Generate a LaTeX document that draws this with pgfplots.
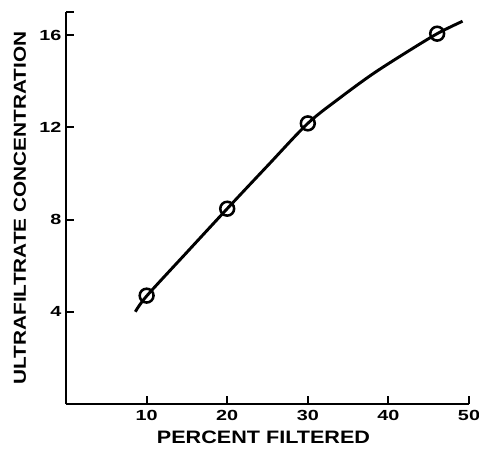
\documentclass[border=0pt]{standalone}
\usepackage{pgfplots}
\pgfplotsset{compat=1.18}
\usepackage{fontspec}
\setmainfont{Liberation Sans}[FakeStretch=1.2]
\newfontfamily\tickfont{Liberation Sans}[FakeStretch=1.35]
\begin{document}
\begin{tikzpicture}
\begin{axis}[
    scale only axis,
    width=302.25pt, height=294pt,
    xmin=0, xmax=50, ymin=0, ymax=17,
    axis lines=left,
    axis line style={line width=2pt, -},
    xtick={10,20,30,40,50},
    ytick={4,8,12,16},
    extra y ticks={17}, extra y tick labels={},
    every tick/.style={black, line width=1.5pt},
    major tick length=6pt,
    tick align=inside,
    /pgf/number format/assume math mode=true,
    tick label style={font=\tickfont\fontsize{11}{13}\selectfont\bfseries},
    xticklabel style={yshift=-1pt},
    xlabel={PERCENT FILTERED},
    ylabel={ULTRAFILTRATE CONCENTRATION},
    xlabel style={at={(axis description cs:0.49,-0.0842)}, anchor=center,
        font=\fontsize{13.5}{15}\selectfont\bfseries},
    ylabel style={at={(axis description cs:-0.1141,0.5)}, anchor=center,
        font=\fontsize{13}{15}\selectfont\bfseries},
]
% drawn curve
\addplot[black, line width=2.2pt, smooth] coordinates {
    (8.6, 4.0) (10, 4.68) (15, 6.58) (20, 8.47) (25, 10.33) (30, 12.17)
    (34, 13.28) (38, 14.3) (42, 15.2) (46.05, 16.06) (49.2, 16.6)
};
% measured points
\addplot[only marks, mark=o, mark size=5.2pt, mark options={line width=1.9pt, fill=white, draw=black}] coordinates {
    (10, 4.7) (20, 8.47) (30, 12.17) (46.05, 16.06)
};
\end{axis}
\pgfresetboundingbox
\path ([xshift=-49.5pt,yshift=-35.25pt]current axis.south west)
    rectangle ([xshift=7.5pt,yshift=9pt]current axis.north east);
\end{tikzpicture}
\end{document}
